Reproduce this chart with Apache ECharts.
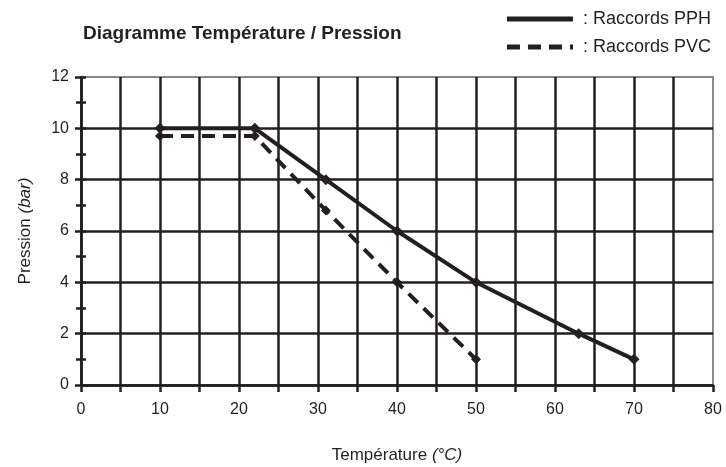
<!DOCTYPE html>
<html>
<head>
<meta charset="utf-8">
<script src="https://cdn.jsdelivr.net/npm/echarts@6/dist/echarts.min.js"></script>
<style>
  html, body { margin: 0; padding: 0; background: #fff; }
  #chart { width: 726px; height: 467px; }
</style>
</head>
<body>
<div id="chart"></div>
<script>
const pphTemp = [10, 22, 31, 40, 50, 63, 70]
const pphPress = [10, 10, 8, 6, 4, 2, 1]
const pvcTemp = [10, 22, 31, 40, 50]
const pvcPress = [9.7, 9.7, 6.8, 4, 1]
const xLabels = [0, 10, 20, 30, 40, 50, 60, 70, 80]
const yLabels = [0, 2, 4, 6, 8, 10, 12]

const ink = '#231f20'
const font = '"Liberation Sans Narrow", "Liberation Sans", Arial, sans-serif'

const chart = echarts.init(document.getElementById('chart'))

const option = {
  animation: false,
  textStyle: { fontFamily: font, color: ink },
  title: {
    text: 'Diagramme Température / Pression',
    left: 78,
    top: 19,
    textStyle: { fontFamily: font, fontSize: 19, fontWeight: 'bold', color: ink }
  },
  legend: {
    orient: 'vertical',
    right: 10,
    top: 5,
    itemWidth: 66,
    itemHeight: 14,
    itemGap: 10,
    itemStyle: { opacity: 0 },
    lineStyle: { width: 5 },
    textStyle: { fontFamily: font, fontSize: 18, color: ink, padding: [0, 0, 0, 5] },
    formatter: name => ': ' + name,
    data: ['Raccords PPH', 'Raccords PVC']
  },
  grid: {
    left: 81, right: 13, top: 77, bottom: 82,
    outerBoundsMode: 'none',
    show: true, borderColor: '#8a8a8a', borderWidth: 2
  },
  xAxis: {
    type: 'value',
    min: 0, max: 80, interval: 5,
    name: 'Température {i|(°C)}',
    nameLocation: 'middle',
    nameGap: 62,
    nameTextStyle: {
      fontSize: 17, color: ink,
      rich: { i: { fontStyle: 'italic', fontSize: 17, color: ink, fontFamily: font } }
    },
    axisLine: { lineStyle: { color: ink, width: 2.5 } },
    axisTick: { length: 7, lineStyle: { color: ink, width: 2.5 } },
    axisLabel: {
      fontSize: 16, color: ink, margin: 17,
      formatter: v => xLabels.includes(v) ? String(v) : ''
    },
    splitLine: { showMaxLine: false, lineStyle: { color: ink, width: 2.5 } }
  },
  yAxis: [
    {
      type: 'value',
      min: 0, max: 12, interval: 2,
      name: 'Pression {i|(bar)}',
      nameLocation: 'middle',
      nameGap: 47,
      nameTextStyle: {
        fontSize: 17, color: ink,
        rich: { i: { fontStyle: 'italic', fontSize: 17, color: ink, fontFamily: font } }
      },
      axisLine: { show: true, lineStyle: { color: ink, width: 2.5 } },
      axisTick: { show: true, length: 6, lineStyle: { color: ink, width: 2.5 } },
      minorTick: { show: true, splitNumber: 2, length: 5, lineStyle: { color: ink, width: 2.5 } },
      axisLabel: {
        fontSize: 16, color: ink, margin: 12,
        formatter: v => yLabels.includes(v) ? String(v) : ''
      },
      splitLine: { showMaxLine: false, lineStyle: { color: ink, width: 2.5 } }
    },
    {
      type: 'value',
      position: 'left',
      min: 0, max: 12, interval: 1,
      axisLine: { show: false },
      axisTick: { show: true, inside: true, length: 5, lineStyle: { color: ink, width: 2.5 } },
      axisLabel: { show: false },
      splitLine: { show: false }
    }
  ],
  series: [
    {
      name: 'Raccords PPH',
      type: 'line',
      data: pphTemp.map((t, i) => [t, pphPress[i]]),
      symbol: 'diamond',
      symbolSize: 11,
      itemStyle: { color: ink },
      lineStyle: { color: ink, width: 4 },
      z: 5
    },
    {
      name: 'Raccords PVC',
      type: 'line',
      data: pvcTemp.map((t, i) => [t, pvcPress[i]]),
      symbol: 'diamond',
      symbolSize: 10,
      itemStyle: { color: ink },
      lineStyle: { color: ink, width: 4, type: [13, 8] },
      z: 4
    }
  ]
}

chart.setOption(option)
</script>
</body>
</html>
